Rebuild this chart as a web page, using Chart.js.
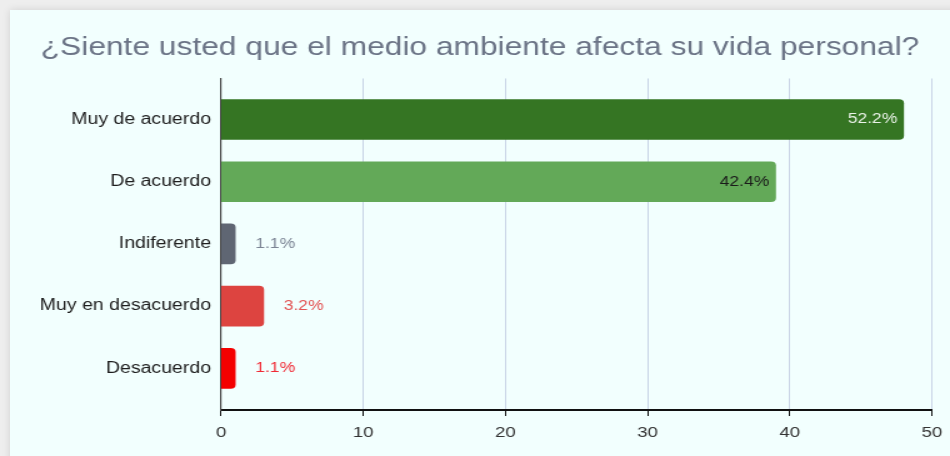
<!DOCTYPE html>
<html>
<head>
<meta charset="utf-8">
<script src="https://cdn.jsdelivr.net/npm/chart.js@4.4.0/dist/chart.umd.min.js"></script>
<style>
  html, body { margin: 0; padding: 0; }
  body { width: 950px; height: 456px; overflow: hidden; background: #eeeeee; position: relative; }
  .card { position: absolute; left: 10px; top: 10px; width: 960px; height: 470px; background: #f2fffe; box-shadow: 0 0 8px rgba(0,0,0,0.12); }
  /* the reference is stretched sideways, so the chart is drawn narrower and scaled */
  .wrap { position: absolute; left: 0; top: 0; width: 760px; height: 456px; transform: scaleX(1.25); transform-origin: 0 0; }
</style>
</head>
<body>
<div class="card"></div>
<div class="wrap"><canvas id="chart"></canvas></div>
<script>
const categories = ['Muy de acuerdo', 'De acuerdo', 'Indiferente', 'Muy en desacuerdo', 'Desacuerdo'];
const counts = [48, 39, 1, 3, 1];
const percentLabels = ['52.2%', '42.4%', '1.1%', '3.2%', '1.1%'];
const xTicks = [0, 10, 20, 30, 40, 50];

const barColors = ['#357523', '#63a958', '#5f6673', '#dd4440', '#f40000'];
const labelColors = ['#eaf2e8', '#1a1a1a', '#7b8494', '#e25353', '#f02a35'];
const family = '"Liberation Sans", Arial, sans-serif';

const barLabels = {
    id: 'barLabels',
    afterDatasetsDraw(chart) {
        const ctx = chart.ctx;
        const meta = chart.getDatasetMeta(0);
        ctx.save();
        ctx.font = '14px ' + family;
        ctx.textBaseline = 'middle';
        meta.data.forEach((bar, i) => {
            ctx.fillStyle = labelColors[i];
            if (counts[i] > 10) {
                ctx.textAlign = 'right';
                ctx.fillText(percentLabels[i], bar.x - 5, bar.y);
            } else {
                ctx.textAlign = 'left';
                ctx.fillText(percentLabels[i], bar.x + 16, bar.y);
            }
        });
        ctx.restore();
    }
};

new Chart(document.getElementById('chart'), {
    type: 'bar',
    data: {
        datasets: [{
            data: counts.map((v, i) => ({ x: v, y: i })),
            backgroundColor: barColors,
            borderRadius: 4,
            barThickness: 40
        }]
    },
    options: {
        indexAxis: 'y',
        responsive: true,
        maintainAspectRatio: false,
        animation: false,
        devicePixelRatio: 1,
        layout: { padding: { left: 22.4, right: 14.4, top: 0, bottom: 0 } },
        plugins: {
            legend: { display: false },
            tooltip: { enabled: false },
            title: {
                display: true,
                text: '¿Siente usted que el medio ambiente afecta su vida personal?',
                color: '#6b7486',
                font: { family: family, size: 25.4, weight: 'normal' },
                padding: { top: 33, bottom: 15 }
            }
        },
        scales: {
            x: {
                type: 'linear',
                position: 'bottom',
                min: 0,
                max: 50,
                afterBuildTicks: s => { s.ticks = xTicks.map(v => ({ value: v })); },
                afterFit: s => { s.height = 46; s.paddingRight = 0; },
                grid: { color: '#c9d4e6', tickLength: 6, tickColor: '#111' },
                border: { display: true, color: '#111', width: 2 },
                ticks: { padding: 8, color: '#333', font: { family: family, size: 15 } }
            },
            y: {
                type: 'linear',
                reverse: true,
                offset: false,
                min: -0.66,
                max: 4.67,
                afterBuildTicks: s => { s.ticks = categories.map((c, i) => ({ value: i })); },
                afterFit: s => { s.width = 154.4; },
                grid: { display: false, drawTicks: false, offset: false },
                border: { display: true, color: '#444', width: 1.2 },
                ticks: {
                    padding: 8,
                    color: '#1e1e1e',
                    font: { family: family, size: 15.6 },
                    callback: v => categories[v]
                }
            }
        }
    },
    plugins: [barLabels]
});
</script>
</body>
</html>
